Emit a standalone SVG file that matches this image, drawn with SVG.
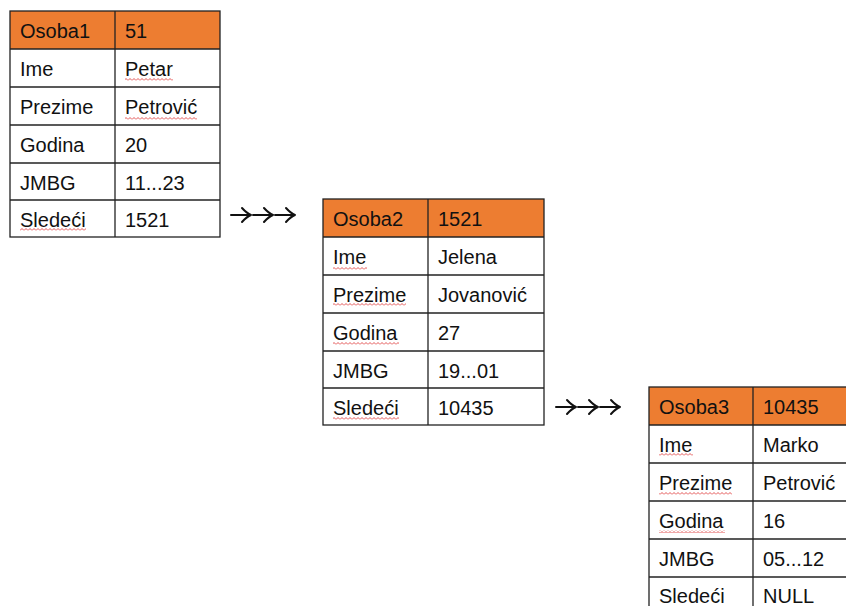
<svg xmlns="http://www.w3.org/2000/svg" width="846" height="606" viewBox="0 0 846 606">
<style>
.hd{fill:#ED7D31}
.bd{fill:none;stroke:#222;stroke-width:1.3}
.ln{stroke:#222;stroke-width:1.3}
text{font-family:"Liberation Sans",Arial,sans-serif;font-size:20px;fill:#111}
.sq{fill:url(#wave)}
.arw{fill:none;stroke:#111;stroke-width:2;stroke-linecap:round;stroke-linejoin:round}
</style>
<defs>
<pattern id="wave" width="4" height="3" patternUnits="userSpaceOnUse">
<path d="M0,2.5 L2,0.5 L4,2.5" fill="none" stroke="#E04040" stroke-width="0.9"/>
</pattern>
<path id="ar" d="M0,0 H20 M11,-7 Q16,-1.5 20,0 Q16,1.5 11,7"/>
</defs>
<rect width="846" height="606" fill="#fff"/>

<g id="osoba1">
<rect class="hd" x="10" y="11" width="210" height="38"/>
<rect class="bd" x="10" y="11" width="210" height="226"/>
<line class="ln" x1="115" y1="11" x2="115" y2="237"/>
<line class="ln" x1="10" y1="49" x2="220" y2="49"/>
<line class="ln" x1="10" y1="87" x2="220" y2="87"/>
<line class="ln" x1="10" y1="125" x2="220" y2="125"/>
<line class="ln" x1="10" y1="163" x2="220" y2="163"/>
<line class="ln" x1="10" y1="200" x2="220" y2="200"/>
<text x="20" y="38">Osoba1</text><text x="125" y="38">51</text>
<text x="20" y="76">Ime</text><text x="125" y="76">Petar</text>
<text x="20" y="114">Prezime</text><text x="125" y="114">Petrović</text>
<text x="20" y="152">Godina</text><text x="125" y="152">20</text>
<text x="20" y="190">JMBG</text><text x="125" y="190">11...23</text>
<text x="20" y="227">Sledeći</text><text x="125" y="227">1521</text>
<rect class="sq" x="125" y="78" width="48" height="3"/>
<rect class="sq" x="125" y="117" width="72" height="3"/>
<rect class="sq" x="20" y="228" width="66" height="3"/>
</g>

<g id="osoba2">
<rect class="hd" x="323" y="199" width="221" height="38"/>
<rect class="bd" x="323" y="199" width="221" height="226"/>
<line class="ln" x1="428" y1="199" x2="428" y2="425"/>
<line class="ln" x1="323" y1="237" x2="544" y2="237"/>
<line class="ln" x1="323" y1="275" x2="544" y2="275"/>
<line class="ln" x1="323" y1="313" x2="544" y2="313"/>
<line class="ln" x1="323" y1="351" x2="544" y2="351"/>
<line class="ln" x1="323" y1="388" x2="544" y2="388"/>
<text x="333" y="226">Osoba2</text><text x="438" y="226">1521</text>
<text x="333" y="264">Ime</text><text x="438" y="264">Jelena</text>
<text x="333" y="302">Prezime</text><text x="438" y="302">Jovanović</text>
<text x="333" y="340">Godina</text><text x="438" y="340">27</text>
<text x="333" y="378">JMBG</text><text x="438" y="378">19...01</text>
<text x="333" y="415">Sledeći</text><text x="438" y="415">10435</text>
<rect class="sq" x="333" y="267" width="34" height="3"/>
<rect class="sq" x="333" y="303" width="73" height="3"/>
<rect class="sq" x="333" y="342" width="66" height="3"/>
<rect class="sq" x="333" y="417" width="66" height="3"/>
</g>

<g id="osoba3">
<rect class="hd" x="649" y="387" width="221" height="38"/>
<rect class="bd" x="649" y="387" width="221" height="230"/>
<line class="ln" x1="753" y1="387" x2="753" y2="617"/>
<line class="ln" x1="649" y1="425" x2="870" y2="425"/>
<line class="ln" x1="649" y1="463" x2="870" y2="463"/>
<line class="ln" x1="649" y1="501" x2="870" y2="501"/>
<line class="ln" x1="649" y1="539" x2="870" y2="539"/>
<line class="ln" x1="649" y1="577" x2="870" y2="577"/>
<text x="659" y="414">Osoba3</text><text x="763" y="414">10435</text>
<text x="659" y="452">Ime</text><text x="763" y="452">Marko</text>
<text x="659" y="490">Prezime</text><text x="763" y="490">Petrović</text>
<text x="659" y="528">Godina</text><text x="763" y="528">16</text>
<text x="659" y="566">JMBG</text><text x="763" y="566">05...12</text>
<text x="659" y="603">Sledeći</text><text x="763" y="603">NULL</text>
<rect class="sq" x="659" y="453" width="34" height="3"/>
<rect class="sq" x="659" y="492" width="73" height="3"/>
<rect class="sq" x="659" y="530" width="66" height="3"/>
</g>

<g id="connectors" class="arw">
<use href="#ar" x="231" y="215"/>
<use href="#ar" x="253" y="215"/>
<use href="#ar" x="275" y="215"/>
<use href="#ar" x="556" y="407"/>
<use href="#ar" x="578" y="407"/>
<use href="#ar" x="600" y="407"/>
</g>
</svg>
